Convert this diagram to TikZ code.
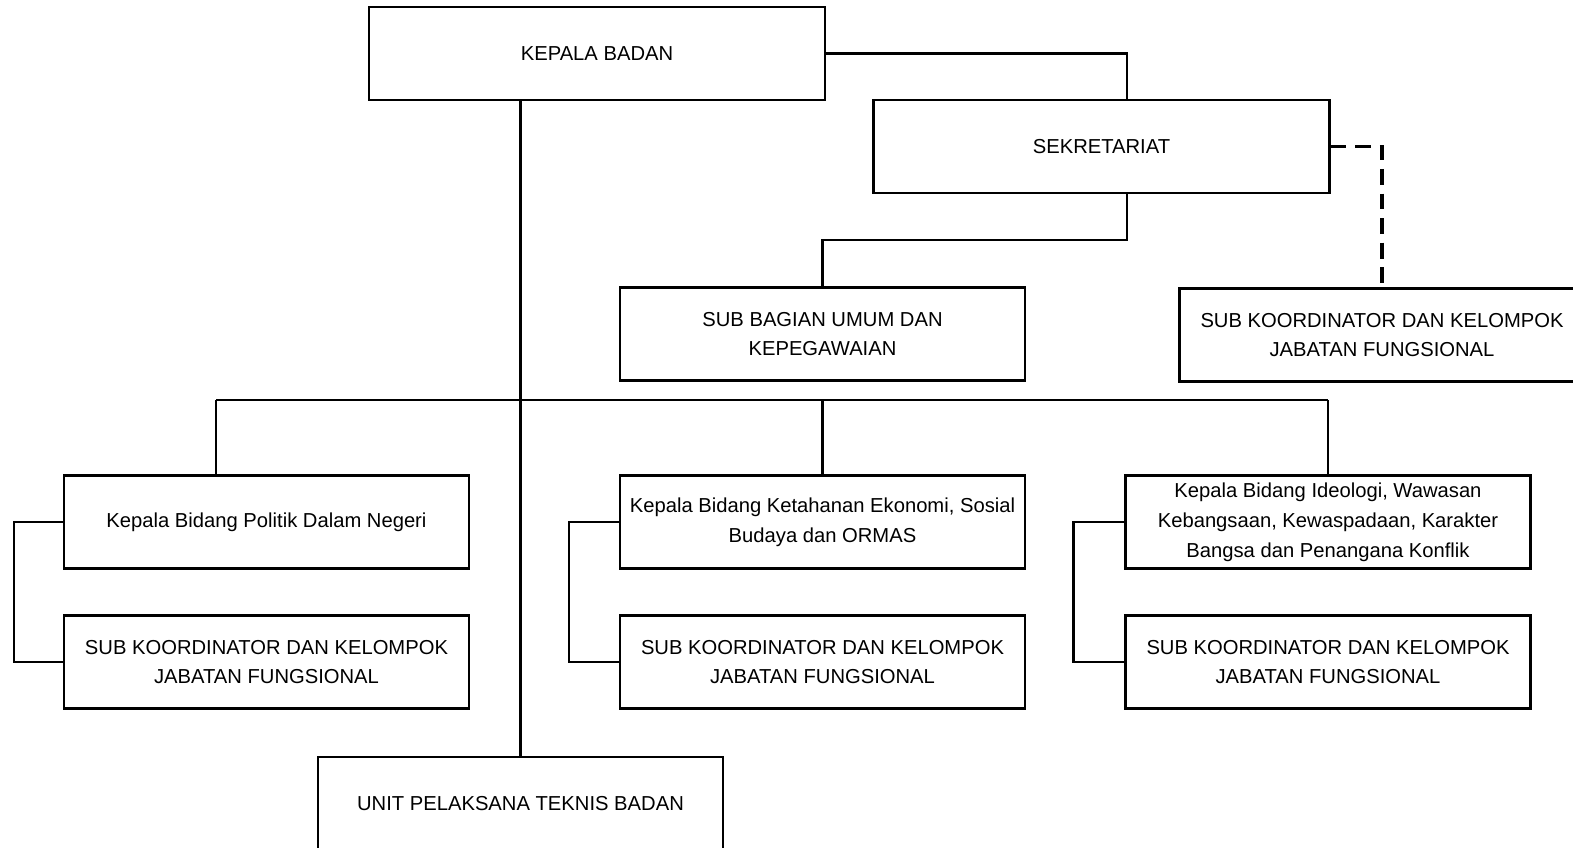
\documentclass[tikz,border=0pt]{standalone}
\usepackage{fontspec}
\setmainfont{Liberation Sans}
\usepackage{tikz}
\usetikzlibrary{calc,positioning}

\begin{document}
\begin{tikzpicture}[x=0.02cm, y=-0.02cm, line width=1.35pt,
  unit/.style={draw, rectangle, inner sep=0pt, align=center, minimum width=8.1cm, minimum height=1.86cm, font=\fontsize{11.5}{17}\selectfont},
  wide/.style={unit, minimum width=9.12cm}]
\clip (0,0) rectangle (1573,848);
\node[wide] (kepala) at (597,53.5) {KEPALA BADAN};
\node[wide] (sekre) at (1101.5,146.5) {SEKRETARIAT};
\node[unit] (subbag) at (822.5,334) {SUB BAGIAN UMUM DAN\\KEPEGAWAIAN};
\node[unit] (jf0) at (1382,335) {SUB KOORDINATOR DAN KELOMPOK\\JABATAN FUNGSIONAL};
\node[unit] (bid1) at (266.5,522) {Kepala Bidang Politik Dalam Negeri};
\node[unit] (jf1) at (266.5,662) {SUB KOORDINATOR DAN KELOMPOK\\JABATAN FUNGSIONAL};
\node[unit] (bid2) at (822.5,522) {Kepala Bidang Ketahanan Ekonomi, Sosial\\Budaya dan ORMAS};
\node[unit] (jf2) at (822.5,662) {SUB KOORDINATOR DAN KELOMPOK\\JABATAN FUNGSIONAL};
\node[unit] (bid3) at (1328,522) {Kepala Bidang Ideologi, Wawasan\\Kebangsaan, Kewaspadaan, Karakter\\Bangsa dan Penangana Konflik};
\node[unit] (jf3) at (1328,662) {SUB KOORDINATOR DAN KELOMPOK\\JABATAN FUNGSIONAL};
\node[unit] (upt) at (520.5,803.5) {UNIT PELAKSANA TEKNIS BADAN};
\coordinate (s) at (1127,100);
\coordinate (b1) at (216,400);
\draw (kepala.east) -| (s);
\draw (s |- sekre.south) -- ++(0,46) -| (subbag.north);
\draw[dashed, line width=2.2pt, dash pattern=on 9pt off 5pt] (sekre.east) -| (jf0.north);
\draw (kepala.south -| upt.north) -- (upt.north);
\draw (b1) -- (bid3.north |- b1);
\draw (b1) -- (b1 |- bid1.north);
\draw (bid2.north |- b1) -- (bid2.north);
\draw (bid3.north |- b1) -- (bid3.north);
\draw (bid1.west) -- ++(-49,0) |- (jf1.west);
\draw (bid2.west) -- ++(-50,0) |- (jf2.west);
\draw (bid3.west) -- ++(-51,0) |- (jf3.west);
\end{tikzpicture}
\end{document}
